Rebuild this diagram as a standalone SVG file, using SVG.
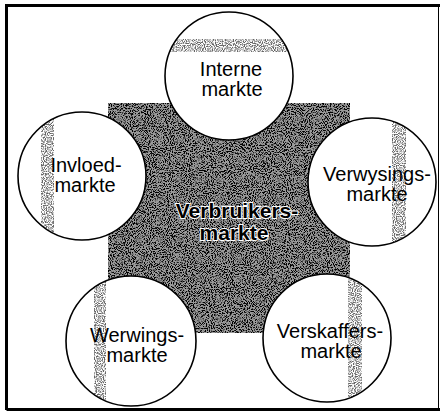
<svg xmlns="http://www.w3.org/2000/svg" width="440" height="413" viewBox="0 0 440 413">
<style>
.frame{fill:none;stroke:#000;stroke-width:3}
.ring{fill:#fff;stroke:#000;stroke-width:1.6}
.lbl{font-family:"Liberation Sans",Arial,sans-serif;font-size:20px;fill:#000;text-anchor:middle}
.core{font-family:"Liberation Sans",Arial,sans-serif;font-size:21px;font-weight:bold;fill:#000;text-anchor:middle;stroke:#fff;stroke-width:2;paint-order:stroke}
.band{fill:#000;opacity:0.6}
</style>
<defs>
<filter id="grain" x="0" y="0" width="100%" height="100%">
<feTurbulence type="fractalNoise" baseFrequency="0.9" numOctaves="1" seed="7" result="n"/>
<feColorMatrix in="n" type="matrix" values="0 0 0 0 0  0 0 0 0 0  0 0 0 0 0  0 0 0 -4 2.4" result="d"/>
<feComposite in="d" in2="SourceGraphic" operator="in"/>
</filter>
<filter id="grain2" x="0" y="0" width="100%" height="100%">
<feTurbulence type="fractalNoise" baseFrequency="0.95" numOctaves="2" seed="3" result="n"/>
<feColorMatrix in="n" type="matrix" values="0 0 0 0 0  0 0 0 0 0  0 0 0 0 0  0 0 0 -6 3.2" result="d"/>
<feComposite in="d" in2="SourceGraphic" operator="in"/>
</filter>
<clipPath id="cInterne"><circle cx="229" cy="76" r="64"/></clipPath>
<clipPath id="cInvloed"><circle cx="82" cy="176" r="64"/></clipPath>
<clipPath id="cVerwys"><circle cx="372" cy="182" r="64"/></clipPath>
<clipPath id="cWerw"><circle cx="131" cy="341" r="65"/></clipPath>
<clipPath id="cVersk"><circle cx="327" cy="338" r="64"/></clipPath>
</defs>
<rect x="0" y="0" width="440" height="413" fill="#fff"/>
<path class="frame" d="M6.5,410 V5.5 H440 M6.5,409.5 H440"/>
<line x1="438.5" y1="5" x2="438.5" y2="410" stroke="#000" stroke-width="1"/>

<g id="verbruikersmarkte">
<rect x="108" y="103" width="242" height="230" fill="#9a9a9a"/>
<rect x="108" y="103" width="242" height="230" fill="#000" filter="url(#grain2)"/>
<text class="core" x="237" y="218">Verbruikers-</text>
<text class="core" x="234" y="240">markte</text>
</g>

<g id="interne">
<circle class="ring" cx="229" cy="76" r="64"/>
<rect class="band" x="160" y="39" width="140" height="13" clip-path="url(#cInterne)" filter="url(#grain)"/>
<text class="lbl" x="231" y="76">Interne</text>
<text class="lbl" x="232" y="96">markte</text>
</g>

<g id="invloed">
<circle class="ring" cx="82" cy="176" r="64"/>
<rect class="band" x="41" y="110" width="13" height="130" clip-path="url(#cInvloed)" filter="url(#grain)"/>
<text class="lbl" x="86" y="172">Invloed-</text>
<text class="lbl" x="85" y="192">markte</text>
</g>

<g id="verwysings">
<circle class="ring" cx="372" cy="182" r="64"/>
<rect class="band" x="392" y="115" width="14" height="135" clip-path="url(#cVerwys)" filter="url(#grain)"/>
<text class="lbl" x="377" y="181">Verwysings-</text>
<text class="lbl" x="377" y="201">markte</text>
</g>

<g id="werwings">
<circle class="ring" cx="131" cy="341" r="65"/>
<rect class="band" x="94" y="275" width="12" height="135" clip-path="url(#cWerw)" filter="url(#grain)"/>
<text class="lbl" x="137" y="342">Werwings-</text>
<text class="lbl" x="137" y="362">markte</text>
</g>

<g id="verskaffers">
<circle class="ring" cx="327" cy="338" r="64"/>
<rect class="band" x="348" y="272" width="14" height="135" clip-path="url(#cVersk)" filter="url(#grain)"/>
<text class="lbl" x="330" y="338">Verskaffers-</text>
<text class="lbl" x="331" y="358">markte</text>
</g>
</svg>
